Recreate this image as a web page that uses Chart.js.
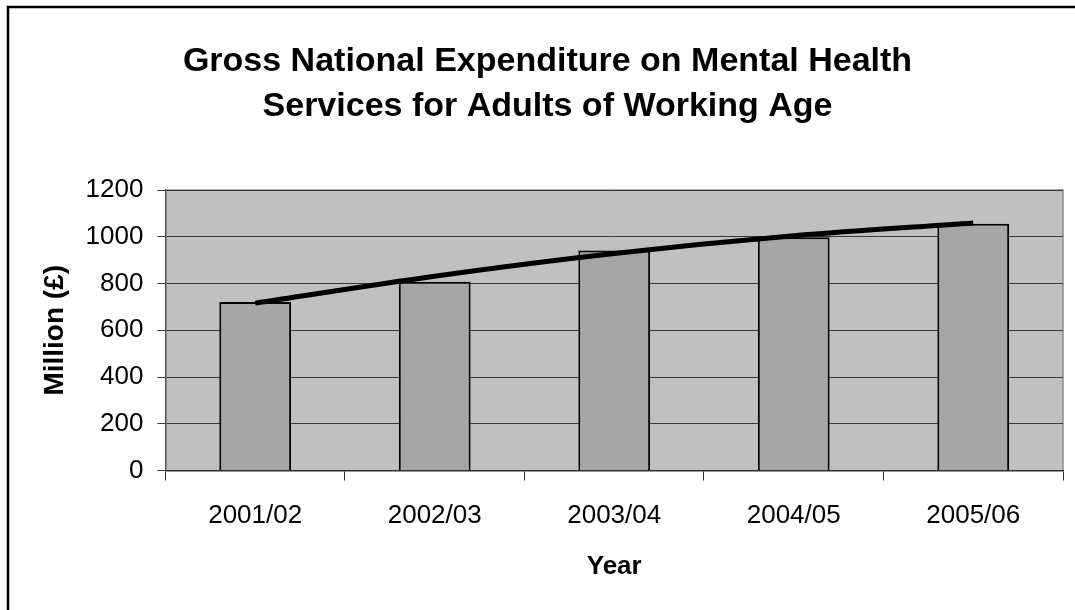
<!DOCTYPE html>
<html>
<head>
<meta charset="utf-8">
<title>Mental Health Expenditure</title>
<script src="https://cdn.jsdelivr.net/npm/chart.js@4/dist/chart.umd.min.js"></script>
<style>
  body { margin: 0; background: #fff; }
  #wrap { width: 1075px; height: 610px; }
</style>
</head>
<body>
<div id="wrap"><canvas id="chart" width="1075" height="610"></canvas></div>
<script>
'use strict';

// **** Data ****

let years = ['2001/02', '2002/03', '2003/04', '2004/05', '2005/06'];
let spending = [721, 807, 941, 998, 1056];
let trendValues = [716, 831, 928, 1004, 1059];
let yTicks = [0, 200, 400, 600, 800, 1000, 1200];

let titleLines = [
  'Gross National Expenditure on Mental Health',
  'Services for Adults of Working Age'
];

const FONT = '"Liberation Sans", Arial, sans-serif';

// **** Plugins ****

// white page, outer frame and grey plot area
let backdrop = {
  id: 'backdrop',
  beforeDraw(chart) {
    let ctx = chart.ctx;
    let area = chart.chartArea;
    ctx.save();
    ctx.fillStyle = '#ffffff';
    ctx.fillRect(0, 0, chart.width, chart.height);
    ctx.strokeStyle = '#000000';
    ctx.lineWidth = 2.5;
    ctx.strokeRect(8, 7, chart.width + 20, chart.height + 20);
    ctx.fillStyle = '#c0c0c0';
    ctx.fillRect(area.left, area.top, area.right - area.left, area.bottom - area.top);
    ctx.strokeStyle = '#8c8c8c';
    ctx.lineWidth = 1.5;
    ctx.beginPath();
    ctx.moveTo(area.left, area.top);
    ctx.lineTo(area.right, area.top);
    ctx.lineTo(area.right, area.bottom);
    ctx.stroke();
    ctx.restore();
  }
};

// two-line heading, centred on the frame
let heading = {
  id: 'heading',
  afterDraw(chart) {
    let ctx = chart.ctx;
    let cx = chart.width / 2 + 10;
    ctx.save();
    ctx.fillStyle = '#000000';
    ctx.font = 'bold 34px ' + FONT;
    ctx.textAlign = 'center';
    ctx.textBaseline = 'alphabetic';
    ctx.fillText(titleLines[0], cx, 71);
    ctx.fillText(titleLines[1], cx, 116);
    ctx.restore();
  }
};

// **** Chart ****

let ctx = document.getElementById('chart').getContext('2d');

let chartConfig = {
  type: 'bar',
  data: {
    labels: years,
    datasets: [{
      type: 'line',
      label: 'Trend',
      data: trendValues,
      borderColor: '#000000',
      borderWidth: 5,
      pointRadius: 0,
      cubicInterpolationMode: 'monotone',
      fill: false,
      order: 1
    },
    {
      label: 'Expenditure',
      data: spending,
      backgroundColor: '#a6a6a6',
      borderColor: '#000000',
      borderWidth: 2,
      barPercentage: 0.4,
      categoryPercentage: 1,
      order: 2
    }]
  },
  options: {
    responsive: false,
    animation: false,
    devicePixelRatio: 1,
    layout: {
      padding: { left: 20, right: 12, top: 190, bottom: 12 }
    },
    plugins: {
      legend: { display: false },
      tooltip: { enabled: false },
      title: { display: false }
    },
    scales: {
      x: {
        offset: true,
        border: { color: '#303030', width: 1.5 },
        grid: {
          offset: true,
          drawOnChartArea: false,
          drawTicks: true,
          tickLength: 10,
          tickColor: '#303030'
        },
        ticks: {
          color: '#000000',
          padding: 19.5,
          font: { family: FONT, size: 26 }
        },
        title: {
          display: true,
          text: 'Year',
          color: '#000000',
          font: { family: FONT, size: 26, weight: 'bold' },
          padding: { top: 0.7, bottom: 15.4 }
        }
      },
      y: {
        min: 0,
        max: 1200,
        border: { color: '#505050', width: 1.5 },
        grid: {
          color: '#383838',
          lineWidth: 1,
          tickLength: 8,
          tickColor: '#383838'
        },
        afterBuildTicks(scale) {
          scale.ticks = yTicks.map(v => ({ value: v }));
        },
        ticks: {
          color: '#000000',
          padding: 14,
          font: { family: FONT, size: 26 },
          callback: value => String(value)
        },
        title: {
          display: true,
          text: 'Million (£)',
          color: '#000000',
          font: { family: FONT, size: 28, weight: 'bold' },
          padding: { top: 18, bottom: 0 }
        }
      }
    }
  },
  plugins: [backdrop, heading]
};

new Chart(ctx, chartConfig);
</script>
</body>
</html>
